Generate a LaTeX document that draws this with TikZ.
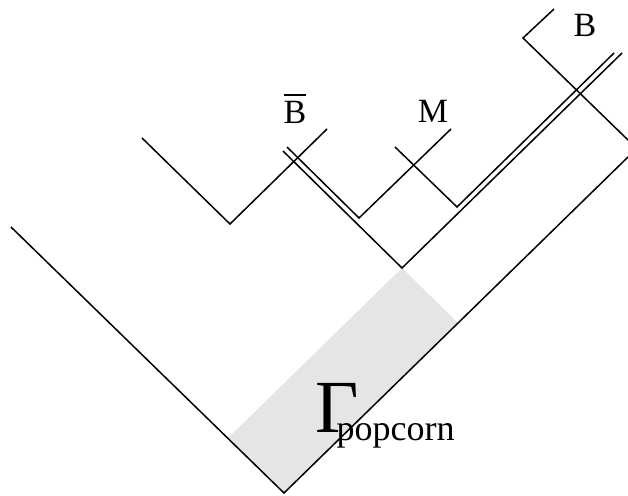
\documentclass[tikz,border=0pt]{standalone}
\usepackage{fontspec}
\setmainfont{Liberation Serif}
\usepackage{tikz}

\newcommand{\barletter}[1]{\setbox0\hbox{#1}\vbox{\hrule width\wd0 height 1.5pt\kern 5pt\box0}}

\tikzset{
	wline/.style = {line width = 1.5pt},
	lbl/.style = {inner sep = 0pt, anchor = base, font = \fontsize{34}{34}\selectfont}
}

\begin{document}
\begin{tikzpicture}[x = 1pt, y = -1pt]
	\useasboundingbox (0, 0) rectangle (628, 495);
	% Points
	\coordinate (o) at (284, 493);
	\coordinate (ol) at (11, 227);
	\coordinate (or) at (628, 157);
	\coordinate (v) at (402, 268);
	\coordinate (vl) at (283, 151);
	\coordinate (vr) at (622, 53);
	\coordinate (gl) at (228, 438);
	\coordinate (gr) at (458, 323);
	\coordinate (a) at (230, 224);
	\coordinate (al) at (142, 138);
	\coordinate (ar) at (327, 129);
	\coordinate (b) at (359, 218);
	\coordinate (bl) at (287, 147);
	\coordinate (br) at (451, 129);
	\coordinate (m) at (457, 207);
	\coordinate (ml) at (395, 147);
	\coordinate (mr) at (614, 53);
	\coordinate (c) at (523, 38);
	\coordinate (ct) at (554, 9);
	\coordinate (cr) at (628, 140);

	% Region
	\fill[gray!20] (v) -- (gr) -- (o) -- (gl) -- cycle;

	% Edges
	\draw[wline] (ol) -- (o) -- (or);
	\draw[wline] (vl) -- (v) -- (vr);
	\draw[wline] (al) -- (a) -- (ar);
	\draw[wline] (bl) -- (b) -- (br);
	\draw[wline] (ml) -- (m) -- (mr);
	\draw[wline] (ct) -- (c) -- (cr);

	% Nodes
	\node[lbl] (bbar) at (295, 123) {\barletter{B}};
	\node[lbl] (mlabel) at (433, 122) {M};
	\node[lbl] (blabel) at (585, 37) {B};
	\node[inner sep = 0pt, anchor = base west] (gamma) at (315, 432) {\fontsize{75}{75}\selectfont Γ\kern-22pt\raisebox{-8pt}{\fontsize{36}{36}\selectfont popcorn}};
\end{tikzpicture}
\end{document}
